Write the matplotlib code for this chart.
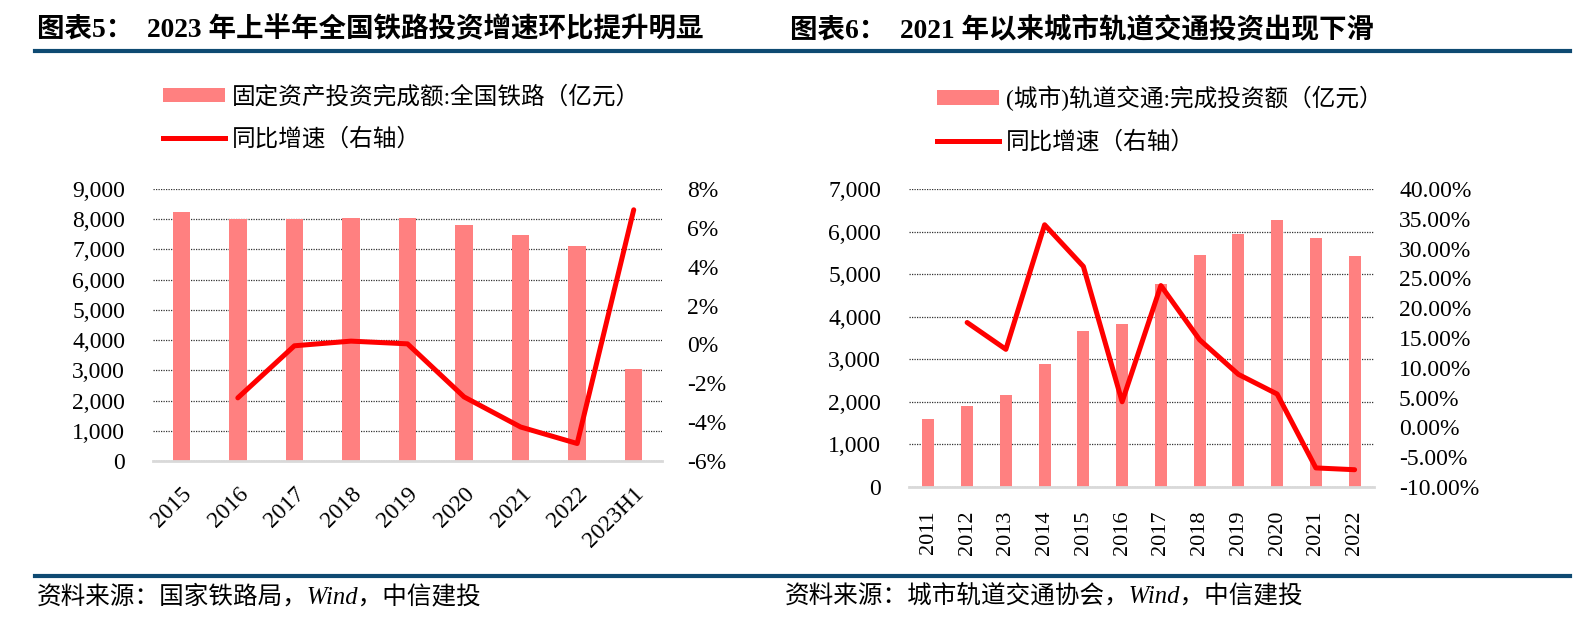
import numpy as np
import matplotlib
matplotlib.use("Agg")
import matplotlib.pyplot as plt
from matplotlib.lines import Line2D
from matplotlib.patches import Patch
from matplotlib.ticker import FuncFormatter

# chart 5: national railway investment
rail_years = ["2015", "2016", "2017", "2018", "2019", "2020", "2021", "2022", "2023H1"]
rail_invest = [8238, 8015, 8010, 8028, 8029, 7819, 7489, 7109, 3042]
rail_yoy = [np.nan, -2.75, -0.07, 0.17, 0.03, -2.70, -4.25, -5.10, 6.93]

# chart 6: urban rail transit investment
metro_years = ["2011", "2012", "2013", "2014", "2015", "2016",
               "2017", "2018", "2019", "2020", "2021", "2022"]
metro_invest = [1609, 1907, 2158, 2888, 3673, 3830, 4772, 5454, 5948, 6278, 5854, 5430]
metro_yoy = [np.nan, 17.6, 13.1, 34.0, 27.0, 4.3, 23.8, 14.7, 8.9, 5.6, -6.8, -7.1]

titles = ["图表5：  2023 年上半年全国铁路投资增速环比提升明显",
          "图表6：  2021 年以来城市轨道交通投资出现下滑"]
bar_labels = ["固定资产投资完成额:全国铁路（亿元）", "(城市)轨道交通:完成投资额（亿元）"]
line_label = "同比增速（右轴）"
sources = ["资料来源：国家铁路局，Wind，中信建投", "资料来源：城市轨道交通协会，Wind，中信建投"]

FAM = ["Liberation Serif", "Noto Sans CJK SC"]
BAR_C = "#FF8080"
LINE_C = "#FF0000"
W, H = 1586, 621

plt.rcParams["font.family"] = FAM
fig = plt.figure(figsize=(W / 100, H / 100), dpi=100)


def px_axes(x0, x1, y0, y1):
    return fig.add_axes([x0 / W, 1 - y1 / H, (x1 - x0) / W, (y1 - y0) / H])


def draw(ax, cats, vals, yoy, ymax, ystep, rlim, rstep, rfmt, xrot):
    x = np.arange(len(cats))
    ax.bar(x, vals, width=0.31, color=BAR_C, zorder=2)
    ax.set_xlim(-0.5, len(cats) - 0.5)
    ax.set_ylim(0, ymax)
    ax.set_yticks(np.arange(0, ymax + 1, ystep))
    ax.yaxis.set_major_formatter(FuncFormatter(lambda v, p: f"{v:,.0f}"))
    ax.grid(axis="y", linestyle=(0, (1, 1)), color="#333333", linewidth=0.9, zorder=0)
    ax.set_axisbelow(True)
    for s in ["top", "left", "right"]:
        ax.spines[s].set_visible(False)
    ax.spines["bottom"].set_color("#D9D9D9")
    ax.spines["bottom"].set_linewidth(2)
    ax.tick_params(axis="y", length=0, pad=20, labelsize=17)
    ax.set_xticks(x)
    if xrot == 45:
        ax.set_xticklabels(cats, rotation=45, ha="right", va="top",
                           rotation_mode="anchor")
        ax.tick_params(axis="x", length=0, pad=16, labelsize=17)
    else:
        ax.set_xticklabels(cats, rotation=90, ha="center", va="top")
        ax.tick_params(axis="x", length=0, pad=17, labelsize=16)

    ax2 = ax.twinx()
    ax2.plot(x, yoy, color=LINE_C, linewidth=3.6, solid_capstyle="round",
             solid_joinstyle="round", zorder=3)
    ax2.set_ylim(*rlim)
    ax2.set_yticks(np.arange(rlim[0], rlim[1] + 0.01, rstep))
    ax2.yaxis.set_major_formatter(FuncFormatter(lambda v, p: rfmt.format(v)))
    for s in ["top", "left", "right", "bottom"]:
        ax2.spines[s].set_visible(False)
    ax2.tick_params(axis="y", length=0, pad=18, labelsize=17)
    return ax2


ax_l = px_axes(153, 662, 189, 461)
draw(ax_l, rail_years, rail_invest, rail_yoy, 9000, 1000, (-6, 8), 2, "{:.0f}%", 45)

ax_r = px_axes(909, 1374, 189, 487)
draw(ax_r, metro_years, metro_invest, metro_yoy, 7000, 1000, (-10, 40), 5, "{:.2f}%", 90)

# titles and rules
fig.text(37 / W, 1 - 30 / H, titles[0], fontsize=19.8, fontweight="bold", va="center")
fig.text(790 / W, 1 - 30 / H, titles[1], fontsize=19.8, fontweight="bold", va="center")
fig.add_artist(Line2D([35 / W, 1570 / W], [1 - 51 / H, 1 - 51 / H],
                      color="#0E4A72", linewidth=3))
fig.add_artist(Line2D([35 / W, 1570 / W], [1 - 576 / H, 1 - 576 / H],
                      color="#0E4A72", linewidth=3))
fig.text(37 / W, 1 - 596 / H, sources[0], fontsize=17.7, style="italic", va="center")
fig.text(785 / W, 1 - 596 / H, sources[1], fontsize=17.7, style="italic", va="center")

# legends
for lx, lab in [(154, bar_labels[0]), (928, bar_labels[1])]:
    handles = [Patch(facecolor=BAR_C, edgecolor="none", label=lab),
               Line2D([0], [0], color=LINE_C, linewidth=3.6, label=line_label)]
    fig.legend(handles=handles, loc="upper left", bbox_to_anchor=(lx / W, 1 - 76 / H),
               frameon=False, fontsize=17, handlelength=2.6, handleheight=0.55,
               handletextpad=0.3, labelspacing=0.85, borderaxespad=0)

fig.savefig("out.png", dpi=100)
